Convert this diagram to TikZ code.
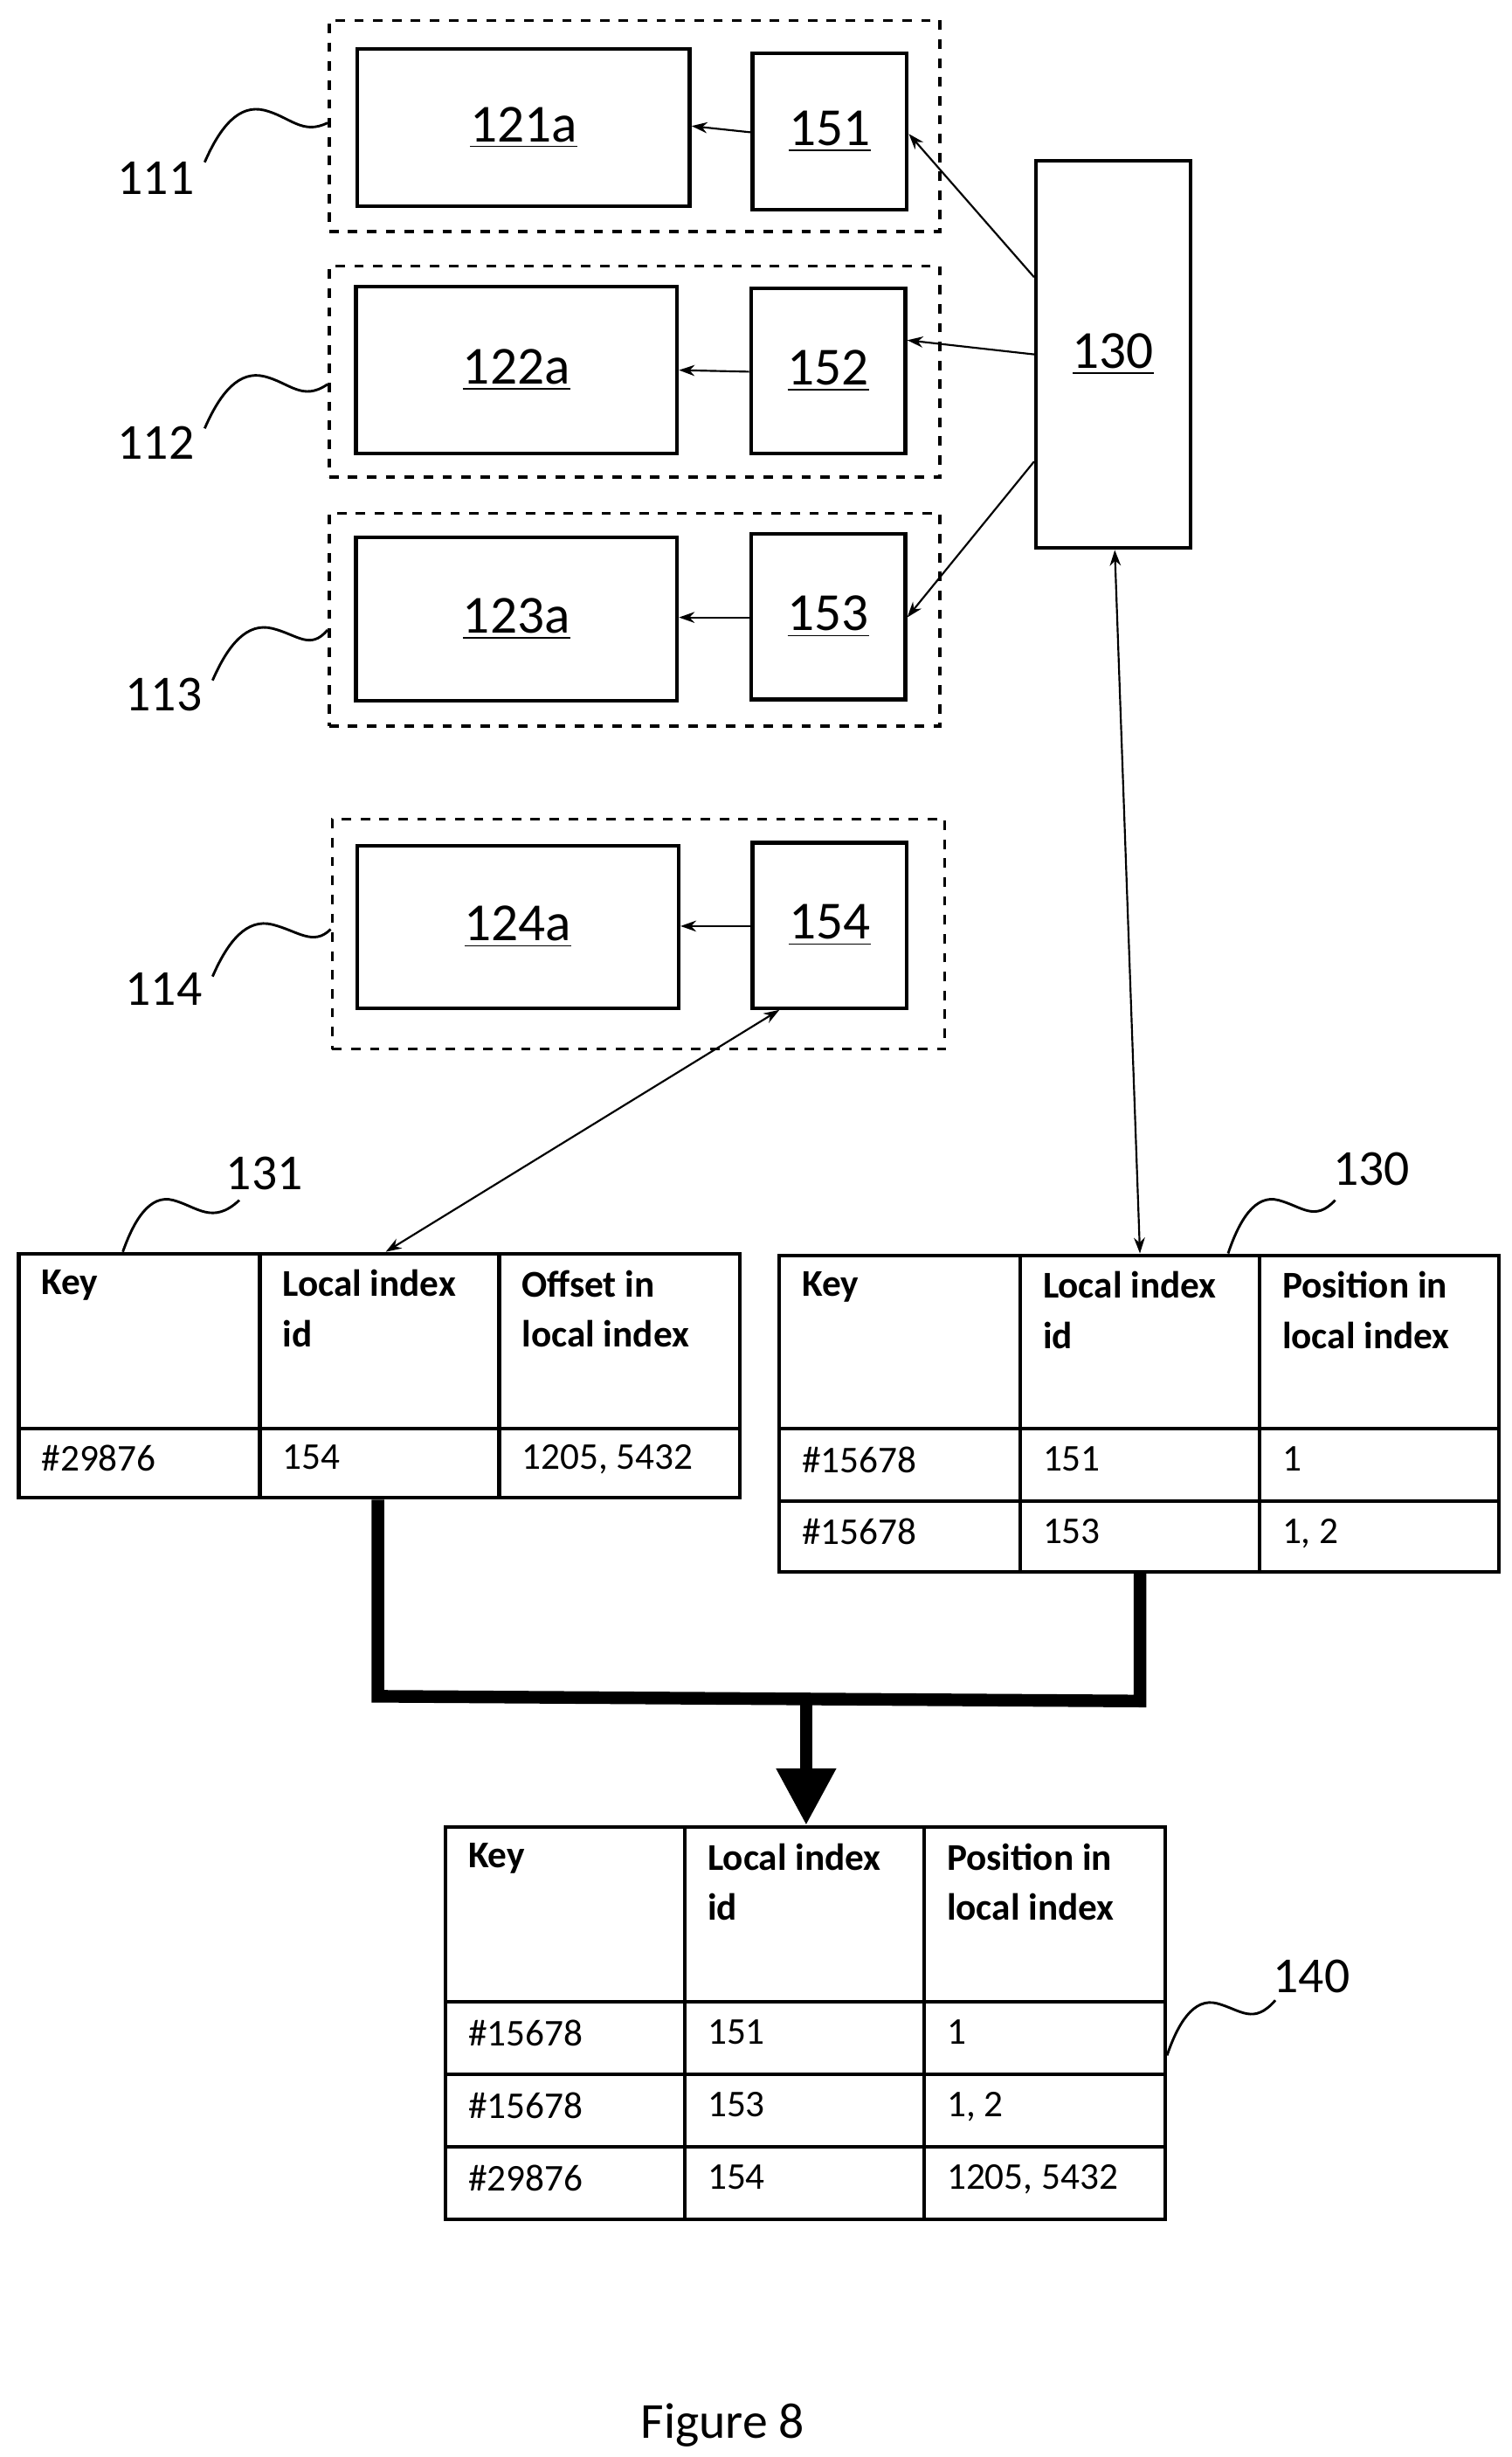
\documentclass[tikz,border=0pt]{standalone}
\usepackage{fontspec}
\setmainfont{Carlito}
\usetikzlibrary{arrows.meta}
\begin{document}
\begin{tikzpicture}[x=0.5pt,y=-0.5pt,
  box/.style={draw,line width=1.2pt,inner sep=0pt,font=\fontsize{17}{20}\selectfont},
  dbox/.style={draw,dashed,line width=1pt,inner sep=0pt},
  tb/.style={draw,line width=1.2pt,inner sep=0pt},
  cell/.style={anchor=north west,align=left,inner sep=0pt,font=\fontsize{12}{16}\selectfont},
  hd/.style={cell,font=\fontsize{12}{16}\selectfont\bfseries},
  lbl/.style={font=\fontsize{16}{18}\selectfont},
  sq/.style={line width=0.8pt},
  ar/.style={-{Stealth[length=5pt,width=3.5pt]},line width=0.6pt},
  dar/.style={{Stealth[length=5pt,width=3.5pt]}-{Stealth[length=5pt,width=3.5pt]},line width=0.6pt},
  thick line/.style={line width=4pt}]
\useasboundingbox (0,0) rectangle (960,1560);
\newcommand{\bx}[7][box]{\node[#1,minimum width={(#4-#2)*0.5pt},minimum height={(#5-#3)*0.5pt}] (#6) at ({(#2+#4)/2},{(#3+#5)/2}) {#7};}
% dashed groups
\bx[dbox]{209}{13}{597}{147}{g111}{}
\bx[dbox]{209}{169}{597}{303}{g112}{}
\bx[dbox]{209}{326}{597}{461}{g113}{}
\bx[dbox]{211}{520}{600}{666}{g114}{}
\bx{227}{31}{438}{131}{b121}{\underline{121a}}
\bx{478}{34}{576}{133}{b151}{\underline{151}}
\bx{226}{182}{430}{288}{b122}{\underline{122a}}
\bx{477}{183}{575}{288}{b152}{\underline{152}}
\bx{226}{341}{430}{445}{b123}{\underline{123a}}
\bx{477}{339}{575}{444}{b153}{\underline{153}}
\bx{227}{537}{431}{640}{b124}{\underline{124a}}
\bx{478}{535}{576}{640}{b154}{\underline{154}}
\bx{658}{102}{756}{348}{b130}{\underline{130}}
% inner arrows
\draw[ar] (b151.west |- 0,84) -- (b121.east |- 0,80);
\draw[ar] (b152.west |- 0,236) -- (b122.east |- 0,235);
\draw[ar] (b153.west |- 0,392) -- (b123.east |- 0,392);
\draw[ar] (b154.west |- 0,588) -- (b124.east |- 0,588);
% arrows from 130
\draw[ar] (b130.west |- 0,176) -- (b151.east |- 0,85);
\draw[ar] (b130.west |- 0,225) -- (b152.east |- 0,216);
\draw[ar] (b130.west |- 0,293) -- (b153.east |- 0,392);
% labels and squiggles
\node[lbl] (l111) at (99,113) {111};
\node[lbl] (l112) at (99,281) {112};
\node[lbl] (l113) at (104,441) {113};
\node[lbl] (l114) at (104,628) {114};
\draw[sq] (130,103) .. controls (140,80) and (152,66) .. (168,70) .. controls (184,74) and (192,86) .. (g111.west |- 0,78);
\draw[sq] (130,272) .. controls (140,249) and (152,235) .. (168,239) .. controls (184,243) and (192,255) .. (g112.west |- 0,244);
\draw[sq] (135,432) .. controls (145,409) and (157,395) .. (173,399) .. controls (189,403) and (197,413) .. (g113.west |- 0,400);
\draw[sq] (135,620) .. controls (145,597) and (157,583) .. (173,587) .. controls (189,591) and (199,601) .. (g114.west |- 0,590);
% table 131
\node[tb,minimum width={458*0.5pt},minimum height={155*0.5pt}] (t131) at (241,873.5) {};
\draw[line width=1.2pt] (165,796) -- (165,951) (317,796) -- (317,951) (12,907) -- (470,907);
\node[hd] (h1a) at (26,806) {Key};
\node[hd] (h1b) at (179,806) {Local index\\id};
\node[hd] (h1c) at (331,806) {Offset in\\local index};
\node[cell] (c1a) at (26,917) {\#29876};
\node[cell] (c1b) at (179,917) {154};
\node[cell] (c1c) at (331,917) {1205, 5432};
\node[lbl] (l131) at (168,745) {131};
\draw[sq] (t131.north -| 78,0) .. controls (85,775) and (95,758) .. (110,762) .. controls (125,766) and (135,778) .. (152,762);
% table 130
\node[tb,minimum width={457*0.5pt},minimum height={201*0.5pt}] (t130) at (723.5,897.5) {};
\draw[line width=1.2pt] (648,797) -- (648,998) (800,797) -- (800,998) (495,907) -- (952,907) (495,953) -- (952,953);
\node[hd] (h2a) at (509,807) {Key};
\node[hd] (h2b) at (662,807) {Local index\\id};
\node[hd] (h2c) at (814,807) {Position in\\local index};
\node[cell] (c2a) at (509,918) {\#15678};
\node[cell] (c2b) at (662,918) {151};
\node[cell] (c2c) at (814,918) {1};
\node[cell] (c2d) at (509,964) {\#15678};
\node[cell] (c2e) at (662,964) {153};
\node[cell] (c2f) at (814,964) {1, 2};
\node[lbl] (l130) at (871,742) {130};
\draw[sq] (t130.north -| 780,0) .. controls (787,775) and (797,758) .. (812,762) .. controls (827,766) and (835,776) .. (848,762);
% double arrows
\draw[dar] (b154.south -| 495,0) -- (t131.north -| 245,0);
\draw[dar] (b130.south -| 708,0) -- (t130.north -| 724,0);
% merge
\coordinate (m1) at (240,1077);
\coordinate (m2) at (724,1080);
\coordinate (mid) at (512,1079);
\draw[thick line] (t131.south -| 240,0) -- (m1) -- (m2) -- (t130.south -| 724,0);
% table 140
\node[tb,minimum width={457*0.5pt},minimum height={249*0.5pt}] (t140) at (511.5,1284.5) {};
\draw[thick line,-{Triangle[length=18pt,width=18pt]}] (mid) -- (t140.north -| 512,0);
\draw[line width=1.2pt] (435,1160) -- (435,1409) (587,1160) -- (587,1409) (283,1271) -- (740,1271) (283,1317) -- (740,1317) (283,1363) -- (740,1363);
\node[hd] (h3a) at (297,1170) {Key};
\node[hd] (h3b) at (449,1170) {Local index\\id};
\node[hd] (h3c) at (601,1170) {Position in\\local index};
\node[cell] (c3a) at (297,1282) {\#15678};
\node[cell] (c3b) at (449,1282) {151};
\node[cell] (c3c) at (601,1282) {1};
\node[cell] (c3d) at (297,1328) {\#15678};
\node[cell] (c3e) at (449,1328) {153};
\node[cell] (c3f) at (601,1328) {1, 2};
\node[cell] (c3g) at (297,1374) {\#29876};
\node[cell] (c3h) at (449,1374) {154};
\node[cell] (c3i) at (601,1374) {1205, 5432};
\node[lbl] (l140) at (833,1255) {140};
\draw[sq] (t140.east |- 0,1305) .. controls (748,1285) and (758,1268) .. (773,1272) .. controls (788,1276) and (796,1286) .. (810,1270);
\node[font=\fontsize{16}{18}\selectfont] (fig) at (459,1540) {Figure 8};
\end{tikzpicture}
\end{document}
